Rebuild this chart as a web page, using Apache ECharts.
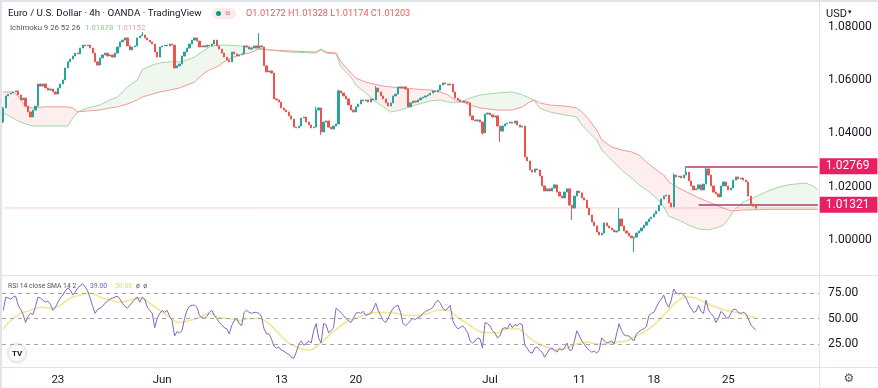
<!DOCTYPE html>
<html><head><meta charset="utf-8">
<script src="https://cdn.jsdelivr.net/npm/echarts@6/dist/echarts.min.js"></script>
<style>html,body{margin:0;padding:0;background:#fff;}#c{width:878px;height:388px;}</style>
</head><body><div id="c"></div>
<script>
// ---- data ----
const totalBars = 329;               // 304 candles + 25 bars of projected cloud
const dateTickIdx  = [22, 64, 112, 142, 196, 232, 262, 292];
const dateTickText = ['23', 'Jun', '13', '20', 'Jul', '11', '18', '25'];
const priceTicks = [1.00, 1.02, 1.04, 1.06, 1.08];
const rsiTicks = [25, 50, 75];

const firstOpen = 1.0443;
const closes = [
1.0496,1.0541,1.0548,1.0552,1.0556,1.0560,1.0545,1.0526,1.0533,1.0503,
1.0481,1.0462,1.0488,1.0503,1.0586,1.0578,1.0586,1.0571,1.0563,1.0567,
1.0556,1.0548,1.0571,1.0586,1.0601,1.0646,1.0669,1.0680,1.0691,1.0702,
1.0699,1.0721,1.0732,1.0729,1.0732,1.0721,1.0702,1.0669,1.0657,1.0684,
1.0695,1.0702,1.0691,1.0695,1.0687,1.0702,1.0725,1.0744,1.0751,1.0759,
1.0729,1.0714,1.0725,1.0729,1.0759,1.0766,1.0770,1.0759,1.0751,1.0744,
1.0736,1.0706,1.0687,1.0725,1.0729,1.0732,1.0729,1.0736,1.0732,1.0646,
1.0654,1.0661,1.0691,1.0706,1.0721,1.0736,1.0751,1.0759,1.0747,1.0725,
1.0729,1.0725,1.0732,1.0729,1.0736,1.0751,1.0729,1.0717,1.0702,1.0687,
1.0676,1.0669,1.0706,1.0699,1.0691,1.0695,1.0699,1.0729,1.0725,1.0717,
1.0721,1.0729,1.0721,1.0729,1.0725,1.0654,1.0631,1.0635,1.0627,1.0530,
1.0526,1.0518,1.0496,1.0488,1.0481,1.0466,1.0454,1.0424,1.0421,1.0428,
1.0458,1.0462,1.0443,1.0432,1.0421,1.0424,1.0488,1.0496,1.0406,1.0443,
1.0447,1.0424,1.0417,1.0428,1.0436,1.0560,1.0552,1.0541,1.0530,1.0507,
1.0488,1.0481,1.0500,1.0511,1.0526,1.0522,1.0526,1.0518,1.0530,1.0526,
1.0571,1.0556,1.0541,1.0530,1.0515,1.0503,1.0515,1.0541,1.0548,1.0575,
1.0571,1.0575,1.0567,1.0500,1.0515,1.0522,1.0518,1.0526,1.0533,1.0537,
1.0541,1.0545,1.0552,1.0560,1.0556,1.0563,1.0582,1.0590,1.0586,1.0582,
1.0586,1.0556,1.0533,1.0526,1.0518,1.0522,1.0518,1.0515,1.0466,1.0451,
1.0447,1.0451,1.0443,1.0402,1.0473,1.0477,1.0470,1.0462,1.0466,1.0428,
1.0409,1.0428,1.0436,1.0439,1.0443,1.0439,1.0447,1.0432,1.0424,1.0428,
1.0312,1.0297,1.0263,1.0255,1.0267,1.0263,1.0240,1.0203,1.0184,1.0192,
1.0184,1.0195,1.0207,1.0180,1.0165,1.0158,1.0180,1.0192,1.0131,1.0120,
1.0165,1.0184,1.0177,1.0158,1.0150,1.0120,1.0094,1.0068,1.0053,1.0030,
1.0019,1.0026,1.0064,1.0053,1.0045,1.0038,1.0030,1.0034,1.0079,1.0053,
1.0034,1.0026,1.0015,1.0008,1.0011,1.0026,1.0034,1.0045,1.0056,1.0068,
1.0079,1.0086,1.0098,1.0109,1.0131,1.0154,1.0165,1.0169,1.0139,1.0124,
1.0244,1.0237,1.0240,1.0233,1.0244,1.0255,1.0222,1.0203,1.0188,1.0192,
1.0207,1.0188,1.0210,1.0267,1.0244,1.0203,1.0180,1.0173,1.0162,1.0203,
1.0218,1.0203,1.0188,1.0195,1.0225,1.0237,1.0229,1.0233,1.0225,1.0218,
1.0165,1.0135,1.0127,1.01203
];
// visible wicks (bar index -> value)
const wickHigh = {0:1.0500, 56:1.0781, 103:1.0777, 126:1.0500, 135:1.0565, 150:1.0578, 248:1.0120, 270:1.0250, 275:1.02769, 283:1.0277, 303:1.01328};
const wickLow  = {0:1.0439, 128:1.0395, 193:1.0395, 200:1.0368, 229:1.0075, 254:0.9955, 303:1.01174};

// Ichimoku cloud (leading spans, already shifted)
const cloudIdx = [0,4,6,9,12,17,23,26,28,30,34,39,43,46,50,54,56,60,63,67,71,74,77,80,83,86,90,95,99,103,107,115,126,128,130,134,136,140,142,146,149,153,156,160,166,172,176,179,182,185,188,192,199,205,209,212,214,216,220,226,231,233,236,239,241,245,249,253,256,259,263,266,268,272,276,280,284,287,290,292,294,298,302,307,311,316,323,326,328];
const spanA = [1.0477,1.0458,1.0447,1.0436,1.0428,1.0428,1.0428,1.0428,1.0458,1.0481,1.0496,1.0507,1.0526,1.0537,1.0575,1.0601,1.0639,1.0657,1.0665,1.0669,1.0669,1.0676,1.0687,1.0706,1.0725,1.0732,1.0732,1.0729,1.0725,1.0721,1.0714,1.0706,1.0702,1.0714,1.0702,1.0699,1.0650,1.0612,1.0582,1.0552,1.0526,1.0500,1.0481,1.0488,1.0507,1.0522,1.0526,1.0518,1.0515,1.0522,1.0533,1.0545,1.0552,1.0556,1.0545,1.0533,1.0522,1.0496,1.0481,1.0470,1.0462,1.0432,1.0402,1.0376,1.0338,1.0300,1.0263,1.0233,1.0207,1.0188,1.0158,1.0124,1.0090,1.0075,1.0056,1.0041,1.0038,1.0045,1.0056,1.0079,1.0109,1.0143,1.0158,1.0180,1.0195,1.0207,1.0214,1.0203,1.0188];
const spanB = [1.0556,1.0556,1.0541,1.0500,1.0496,1.0500,1.0500,1.0500,1.0496,1.0481,1.0485,1.0488,1.0496,1.0500,1.0511,1.0526,1.0537,1.0548,1.0556,1.0563,1.0571,1.0582,1.0593,1.0620,1.0639,1.0650,1.0676,1.0695,1.0702,1.0717,1.0714,1.0710,1.0706,1.0717,1.0706,1.0702,1.0669,1.0627,1.0608,1.0593,1.0586,1.0578,1.0575,1.0571,1.0567,1.0563,1.0556,1.0545,1.0526,1.0518,1.0507,1.0496,1.0488,1.0488,1.0500,1.0518,1.0526,1.0515,1.0507,1.0503,1.0496,1.0481,1.0451,1.0413,1.0376,1.0349,1.0338,1.0331,1.0319,1.0293,1.0263,1.0244,1.0218,1.0195,1.0177,1.0158,1.0143,1.0131,1.0120,1.0113,1.0109,1.0113,1.0113,1.0115,1.0115,1.0115,1.0115,1.0115,1.0115];

// RSI 14
const rsi = [
58,71,70,69,71,72,63,59,54,46, 52,55,54,62,71,70,68,66,67,64,
58,61,66,70,73,77,80,78,73,76, 80,82,84,81,77,70,62,55,59,60,
62,65,67,69,70,71,72,69,65,62, 60,63,66,69,71,66,71,69,61,58,
55,41,50,55,58,56,58,52,48,33, 37,36,38,50,58,62,63,63,61,53,
51,50,52,56,58,53,50,46,44,41, 40,35,43,48,50,45,43,56,58,56,
55,56,56,55,52,40,35,35,30,23, 21,22,19,18,16,15,12,11,17,25,
28,24,25,28,26,38,45,31,26,45, 44,36,38,41,60,58,56,53,50,48,
46,50,55,56,55,57,53,54,55,59, 65,58,53,48,46,50,56,60,62,63,
56,45,43,45,48,50,49,51,52,55, 57,58,59,61,65,68,65,60,58,60,
63,48,43,40,41,43,40,36,28,26, 28,31,30,21,46,45,43,38,36,31,
33,40,41,40,45,41,44,43,45,44, 24,21,17,16,21,22,19,17,12,16,
20,21,19,17,21,19,21,26,19,19, 28,38,33,28,25,21,19,17,18,16,
19,31,28,26,27,28,25,35,45,38, 34,33,33,30,28,35,37,39,40,42,
53,55,56,61,66,69,73,65,61,68, 79,75,74,75,73,70,64,60,56,57,
63,57,55,68,58,55,52,46,50,57, 55,51,50,55,59,59,56,55,56,55,
50,44,41,39
];
const rsiSmaIdx = [0,3,7,11,15,19,23,27,31,35,39,43,47,51,55,59,63,67,71,75,79,83,87,91,95,99,103,107,111,115,119,123,127,131,135,139,143,147,151,155,159,163,167,171,175,179,183,187,191,195,199,203,207,211,215,219,223,227,231,235,239,243,247,251,255,259,263,267,271,275,279,283,287,291,295,299,303];
const rsiSma = [40,48,55,58,61,60,63,70,73,75,71,68,66,68,70,65,58,51,46,48,51,55,51,50,48,50,50,45,35,26,21,19,24,33,41,48,51,55,56,56,55,53,53,55,58,58,51,45,38,36,36,40,40,33,26,22,19,21,25,27,25,25,27,28,33,38,46,56,66,71,70,65,61,58,56,53,51];

const levelValues = [1.02769, 1.01321];
const levelStartIdx = [275, 280];
const lastOpen = 1.01272;
const lastClose = 1.01203;
const ohlcKeys = ['O', 'H', 'L', 'C'];
const ohlcVals = ['1.01272', '1.01328', '1.01174', '1.01203'];
const ichiVals = ['1.01878', '1.01152'];
const rsiVals = ['39.00', '50.86'];

// ---- build ----
const FONT = 'Roboto, "Noto Sans", sans-serif';
const cats = Array.from({length: totalBars}, (_, i) => String(i));
const candles = closes.map((c, i) => {
  const o = i === 0 ? firstOpen : (i === closes.length - 1 ? lastOpen : closes[i - 1]);
  const h = wickHigh[i] !== undefined ? wickHigh[i] : Math.max(o, c);
  const l = wickLow[i] !== undefined ? wickLow[i] : Math.min(o, c);
  return [o, c, l, h];
});
const cloudBase = cloudIdx.map((x, k) => [x, Math.min(spanA[k], spanB[k])]);
const cloudUp = cloudIdx.map((x, k) => [x, Math.max(spanA[k] - spanB[k], 0)]);
const cloudDn = cloudIdx.map((x, k) => [x, Math.max(spanB[k] - spanA[k], 0)]);
const tickMap = {};
dateTickIdx.forEach((ix, k) => tickMap[ix] = dateTickText[k]);

const levelLabel = {show: true, position: 'end', distance: 2, formatter: p => Number(p.value).toFixed(5),
  color: '#fff', backgroundColor: '#e91e63', padding: [2, 8, 1, 6], fontSize: 12, fontFamily: FONT, lineHeight: 13};
const markData = levelValues.map((v, k) => [
  {coord: [levelStartIdx[k], v], value: v, lineStyle: {color: '#b03a6e', type: 'solid', width: 1.5}, label: levelLabel},
  {coord: [totalBars - 1, v], value: v}
]);

function txt(x, y, text, size, fill) {
  return {type: 'text', x: x, y: y, style: {text: text, font: size + 'px ' + FONT, fill: fill, verticalAlign: 'middle'}};
}

const chart = echarts.init(document.getElementById('c'), null, {renderer: 'canvas'});
const border = '#e0e3eb';
chart.setOption({
  animation: false,
  backgroundColor: '#fff',
  grid: [
    {left: 2, right: 59, top: 0, height: 275},
    {left: 2, right: 59, top: 276, height: 91}
  ],
  xAxis: [
    {type: 'category', gridIndex: 0, data: cats, axisLine: {show: false}, axisTick: {show: false}, axisLabel: {show: false}, splitLine: {show: false}},
    {type: 'category', gridIndex: 1, data: cats, axisLine: {show: false}, axisTick: {show: false}, splitLine: {show: false},
      axisLabel: {interval: (i) => tickMap[i] !== undefined, formatter: (v, i) => tickMap[i] || '', color: '#131722', fontSize: 11.5, fontFamily: FONT, margin: 7}}
  ],
  yAxis: [
    {type: 'value', gridIndex: 0, position: 'right', min: 0.98685, max: 1.09014,
      axisLine: {show: false}, axisTick: {show: false}, splitLine: {show: false},
      axisLabel: {customValues: priceTicks, formatter: v => v.toFixed(5), color: '#131722', fontSize: 12, fontFamily: FONT, margin: 9}},
    {type: 'value', gridIndex: 1, position: 'right', min: 2.45, max: 91.67,
      axisLine: {show: false}, axisTick: {show: false}, splitLine: {show: false},
      axisLabel: {customValues: rsiTicks, formatter: v => v.toFixed(2), color: '#131722', fontSize: 12, fontFamily: FONT, margin: 9}}
  ],
  series: [
    {type: 'line', xAxisIndex: 0, yAxisIndex: 0, data: cloudBase, stack: 'cloud', symbol: 'none', lineStyle: {opacity: 0}, silent: true, z: 1},
    {type: 'line', xAxisIndex: 0, yAxisIndex: 0, data: cloudUp, stack: 'cloud', symbol: 'none', lineStyle: {opacity: 0}, areaStyle: {color: 'rgba(67,160,71,0.12)'}, silent: true, z: 1},
    {type: 'line', xAxisIndex: 0, yAxisIndex: 0, data: cloudDn, stack: 'cloud', symbol: 'none', lineStyle: {opacity: 0}, areaStyle: {color: 'rgba(244,67,54,0.12)'}, silent: true, z: 1},
    {type: 'line', xAxisIndex: 0, yAxisIndex: 0, data: cloudIdx.map((x, k) => [x, spanA[k]]), symbol: 'none', lineStyle: {color: '#a5d6a7', width: 1}, silent: true, z: 2},
    {type: 'line', xAxisIndex: 0, yAxisIndex: 0, data: cloudIdx.map((x, k) => [x, spanB[k]]), symbol: 'none', lineStyle: {color: '#ef9a9a', width: 1}, silent: true, z: 2},
    {type: 'line', xAxisIndex: 0, yAxisIndex: 0, data: [[0, lastClose], [totalBars - 1, lastClose]], symbol: 'none', silent: true, z: 2,
      lineStyle: {color: 'rgba(239,83,80,0.28)', width: 1}},
    {type: 'candlestick', xAxisIndex: 0, yAxisIndex: 0, data: candles, barWidth: '70%', z: 5,
      itemStyle: {color: '#26a69a', color0: '#ef5350', borderColor: '#26a69a', borderColor0: '#ef5350', borderWidth: 1},
      markLine: {silent: true, symbol: 'none', data: markData}},
    {type: 'line', xAxisIndex: 1, yAxisIndex: 1, data: rsi, symbol: 'none', lineStyle: {color: '#8068c0', width: 1}, z: 4,
      markLine: {silent: true, symbol: 'none', label: {show: false}, lineStyle: {color: '#a0a3ab', type: [4, 4], width: 1},
        data: rsiTicks.map(v => ({yAxis: v}))}},
    {type: 'line', xAxisIndex: 1, yAxisIndex: 1, data: rsiSmaIdx.map((x, k) => [x, rsiSma[k]]), smooth: 0.4, symbol: 'none', lineStyle: {color: '#efe68e', width: 1.5}, z: 3}
  ],
  graphic: [
    {type: 'rect', shape: {x: 0, y: 0, width: 878, height: 2}, style: {fill: border}, silent: true},
    {type: 'rect', shape: {x: 0, y: 0, width: 2, height: 388}, style: {fill: border}, silent: true},
    {type: 'line', shape: {x1: 819.5, y1: 0, x2: 819.5, y2: 388}, style: {stroke: border, lineWidth: 1}, silent: true},
    {type: 'line', shape: {x1: 0, y1: 275.5, x2: 878, y2: 275.5}, style: {stroke: border, lineWidth: 1}, silent: true},
    {type: 'line', shape: {x1: 0, y1: 367.5, x2: 878, y2: 367.5}, style: {stroke: border, lineWidth: 1}, silent: true},
    txt(8, 13.5, 'Euro / U.S. Dollar · 4h · OANDA · TradingView', 9.8, '#131722'),
    {type: 'rect', shape: {x: 212, y: 8, width: 24, height: 11, r: 5}, style: {fill: '#fbe9ec'}},
    {type: 'circle', shape: {cx: 218.5, cy: 13.5, r: 2.5}, style: {fill: '#089981'}},
    {type: 'text', x: 225, y: 13.5, style: {text: '≈', font: 'bold 9px ' + FONT, fill: '#e57373', verticalAlign: 'middle'}},
    txt(246, 13.5, ohlcKeys.map((k, i) => k + ohlcVals[i]).join(' '), 9.2, '#e0605c'),
    txt(10, 28, 'Ichimoku 9 26 52 26', 7.8, '#50535e'),
    txt(85, 28, ichiVals[0], 7.8, '#8fca92'),
    txt(117, 28, ichiVals[1], 7.8, '#e8a5a5'),
    txt(826, 14, 'USD', 11, '#131722'),
    {type: 'text', x: 848, y: 12, style: {text: '▾', font: '7px ' + FONT, fill: '#131722', verticalAlign: 'middle'}},
    txt(8, 286, 'RSI 14 close SMA 14 2', 6.8, '#50535e'),
    txt(90, 286, rsiVals[0], 6.8, '#7e57c2'),
    txt(115, 286, rsiVals[1], 6.8, '#e4d77a'),
    txt(136, 286, 'ø  ø', 6.8, '#50535e'),
    {type: 'circle', shape: {cx: 17, cy: 353, r: 9}, style: {fill: '#fff', stroke: '#e6e6ea', lineWidth: 1, shadowBlur: 3, shadowColor: 'rgba(0,0,0,0.15)'}},
    {type: 'text', x: 17, y: 353.5, style: {text: 'TV', font: 'bold 8px ' + FONT, fill: '#131722', align: 'center', verticalAlign: 'middle'}},
    {type: 'text', x: 849, y: 379, style: {text: '⚙', font: '12px "DejaVu Sans"', fill: '#50535e', align: 'center', verticalAlign: 'middle'}}
  ]
});
</script></body></html>
